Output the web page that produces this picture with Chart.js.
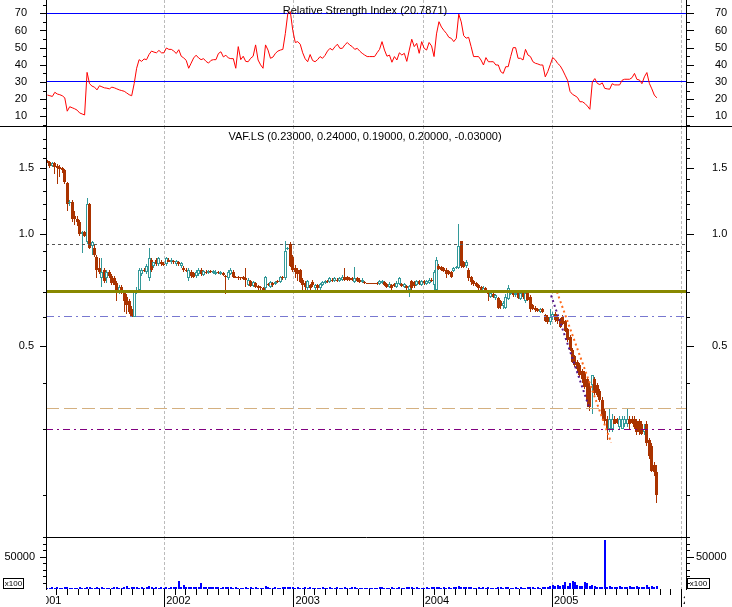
<!DOCTYPE html>
<html>
<head>
<meta charset="utf-8">
<title>VAF.LS</title>
<script src="https://cdn.jsdelivr.net/npm/chart.js@4.4.1/dist/chart.umd.min.js"></script>
<style>
  html, body { margin: 0; padding: 0; background: #fff; }
  #wrap { position: relative; width: 732px; height: 607px; overflow: hidden; background: #fff; }
  #wrap canvas { position: absolute; left: 0; }
</style>
</head>
<body>
<div id="wrap">
  <canvas id="rsi" width="732" height="127" style="top:0"></canvas>
  <canvas id="price" width="732" height="411" style="top:126px"></canvas>
  <canvas id="vol" width="732" height="70" style="top:537px"></canvas>
</div>
<script>
// weekly bars, the first one is the week of this date
const firstWeek = '2001-02-05';

const opens = [
  1.57, 1.56, 1.52, 1.55, 1.52, 1.51, 1.50, 1.48, 1.37, 1.21,
  1.22, 1.12, 1.10, 1.08, 1.00, 1.01, 0.95, 1.20, 0.93, 0.92,
  0.87, 0.81, 0.76, 0.80, 0.76, 0.79, 0.77, 0.76, 0.74, 0.70,
  0.72, 0.70, 0.68, 0.66, 0.63, 0.60, 0.70, 0.71, 0.78, 0.80,
  0.79, 0.76, 0.85, 0.82, 0.85, 0.83, 0.84, 0.83, 0.83, 0.85,
  0.84, 0.845, 0.83, 0.84, 0.82, 0.81, 0.80, 0.76, 0.79, 0.785,
  0.77, 0.78, 0.80, 0.775, 0.79, 0.785, 0.795, 0.785, 0.78, 0.79,
  0.78, 0.785, 0.77, 0.76, 0.78, 0.79, 0.765, 0.765, 0.763, 0.765,
  0.76, 0.73, 0.75, 0.725, 0.74, 0.725, 0.72, 0.715, 0.715, 0.735,
  0.72, 0.74, 0.735, 0.75, 0.745, 0.765, 0.76, 0.91, 0.94, 0.87,
  0.81, 0.80, 0.80, 0.755, 0.74, 0.715, 0.73, 0.745, 0.715, 0.73,
  0.715, 0.73, 0.74, 0.75, 0.745, 0.755, 0.75, 0.755, 0.75, 0.755,
  0.765, 0.765, 0.762, 0.76, 0.745, 0.76, 0.755, 0.745, 0.745, 0.737,
  0.737, 0.736, 0.736, 0.74, 0.735, 0.74, 0.745, 0.735, 0.72, 0.73,
  0.735, 0.72, 0.735, 0.735, 0.72, 0.725, 0.71, 0.75, 0.745, 0.73,
  0.75, 0.73, 0.75, 0.735, 0.74, 0.755, 0.73, 0.71, 0.82, 0.815,
  0.81, 0.80, 0.795, 0.79, 0.795, 0.81, 0.81, 0.955, 0.84, 0.82,
  0.80, 0.765, 0.75, 0.74, 0.73, 0.72, 0.70, 0.715, 0.705, 0.68,
  0.69, 0.675, 0.675, 0.66, 0.64, 0.635, 0.67, 0.69, 0.70, 0.685,
  0.70, 0.67, 0.695, 0.66, 0.695, 0.68, 0.645, 0.635, 0.63, 0.62,
  0.63, 0.605, 0.60, 0.58, 0.60, 0.61, 0.60, 0.59, 0.60, 0.585,
  0.555, 0.53, 0.49, 0.47, 0.455, 0.445, 0.43, 0.425, 0.41, 0.39,
  0.395, 0.41, 0.395, 0.38, 0.36, 0.335, 0.32, 0.30, 0.30, 0.32,
  0.32, 0.305, 0.30, 0.31, 0.31, 0.32, 0.32, 0.32, 0.315, 0.315,
  0.31, 0.295, 0.31, 0.28, 0.27, 0.24, 0.23
];
const highs = [
  1.58, 1.57, 1.56, 1.56, 1.54, 1.53, 1.51, 1.49, 1.38, 1.23,
  1.23, 1.15, 1.12, 1.09, 1.02, 1.02, 1.25, 1.21, 0.96, 0.94,
  0.88, 0.86, 0.86, 0.81, 0.80, 0.80, 0.78, 0.77, 0.75, 0.73,
  0.73, 0.71, 0.69, 0.67, 0.64, 0.71, 0.72, 0.81, 0.81, 0.81,
  0.83, 0.92, 0.86, 0.84, 0.86, 0.87, 0.85, 0.84, 0.87, 0.86,
  0.86, 0.85, 0.85, 0.845, 0.84, 0.82, 0.81, 0.81, 0.80, 0.79,
  0.80, 0.81, 0.81, 0.80, 0.80, 0.80, 0.80, 0.80, 0.80, 0.795,
  0.795, 0.79, 0.775, 0.80, 0.81, 0.80, 0.77, 0.77, 0.765, 0.77,
  0.81, 0.76, 0.755, 0.75, 0.745, 0.73, 0.725, 0.72, 0.77, 0.74,
  0.75, 0.745, 0.75, 0.755, 0.77, 0.77, 0.955, 0.925, 0.95, 0.88,
  0.825, 0.81, 0.805, 0.76, 0.75, 0.755, 0.735, 0.755, 0.735, 0.735,
  0.74, 0.75, 0.755, 0.755, 0.765, 0.76, 0.765, 0.76, 0.765, 0.775,
  0.81, 0.77, 0.765, 0.765, 0.815, 0.765, 0.76, 0.76, 0.75, 0.74,
  0.74, 0.738, 0.738, 0.745, 0.755, 0.755, 0.75, 0.74, 0.745, 0.735,
  0.74, 0.75, 0.765, 0.74, 0.74, 0.73, 0.73, 0.755, 0.75, 0.755,
  0.755, 0.755, 0.755, 0.755, 0.76, 0.76, 0.80, 0.87, 0.83, 0.82,
  0.815, 0.81, 0.80, 0.795, 0.815, 0.82, 1.065, 0.96, 0.845, 0.85,
  0.81, 0.77, 0.755, 0.745, 0.735, 0.725, 0.725, 0.72, 0.71, 0.70,
  0.695, 0.69, 0.68, 0.665, 0.66, 0.69, 0.73, 0.705, 0.705, 0.70,
  0.705, 0.70, 0.70, 0.70, 0.70, 0.685, 0.65, 0.64, 0.635, 0.635,
  0.635, 0.61, 0.605, 0.63, 0.62, 0.62, 0.605, 0.595, 0.605, 0.59,
  0.56, 0.535, 0.495, 0.475, 0.46, 0.45, 0.435, 0.43, 0.415, 0.40,
  0.42, 0.415, 0.40, 0.385, 0.365, 0.34, 0.325, 0.34, 0.33, 0.325,
  0.322, 0.325, 0.325, 0.325, 0.34, 0.325, 0.325, 0.325, 0.32, 0.32,
  0.315, 0.31, 0.315, 0.285, 0.275, 0.245, 0.24
];
const lows = [
  1.55, 1.50, 1.51, 1.45, 1.36, 1.42, 1.46, 1.36, 1.15, 1.19,
  1.08, 1.06, 1.05, 0.99, 0.89, 0.98, 0.94, 0.91, 0.88, 0.87,
  0.76, 0.78, 0.72, 0.74, 0.74, 0.76, 0.73, 0.73, 0.66, 0.69,
  0.69, 0.62, 0.61, 0.61, 0.598, 0.598, 0.69, 0.70, 0.77, 0.79,
  0.78, 0.75, 0.79, 0.81, 0.82, 0.82, 0.82, 0.82, 0.82, 0.84,
  0.83, 0.83, 0.82, 0.82, 0.81, 0.79, 0.79, 0.75, 0.76, 0.76,
  0.76, 0.77, 0.77, 0.77, 0.78, 0.78, 0.785, 0.78, 0.775, 0.78,
  0.775, 0.77, 0.69, 0.755, 0.775, 0.76, 0.76, 0.755, 0.755, 0.755,
  0.72, 0.725, 0.72, 0.72, 0.715, 0.705, 0.71, 0.70, 0.71, 0.725,
  0.715, 0.72, 0.73, 0.74, 0.74, 0.755, 0.755, 0.905, 0.815, 0.79,
  0.76, 0.75, 0.74, 0.71, 0.70, 0.71, 0.71, 0.72, 0.71, 0.71,
  0.71, 0.725, 0.735, 0.74, 0.74, 0.745, 0.745, 0.745, 0.745, 0.75,
  0.75, 0.75, 0.75, 0.75, 0.74, 0.745, 0.74, 0.74, 0.735, 0.735,
  0.734, 0.733, 0.733, 0.73, 0.73, 0.735, 0.725, 0.715, 0.715, 0.71,
  0.72, 0.715, 0.73, 0.72, 0.715, 0.71, 0.68, 0.71, 0.715, 0.725,
  0.73, 0.725, 0.73, 0.73, 0.735, 0.745, 0.71, 0.705, 0.80, 0.795,
  0.79, 0.76, 0.775, 0.76, 0.79, 0.805, 0.805, 0.81, 0.81, 0.81,
  0.75, 0.73, 0.725, 0.72, 0.71, 0.70, 0.695, 0.70, 0.66, 0.675,
  0.675, 0.665, 0.63, 0.63, 0.63, 0.63, 0.665, 0.685, 0.68, 0.68,
  0.67, 0.665, 0.67, 0.655, 0.66, 0.62, 0.625, 0.62, 0.62, 0.615,
  0.615, 0.58, 0.575, 0.57, 0.59, 0.58, 0.575, 0.56, 0.57, 0.545,
  0.515, 0.485, 0.45, 0.44, 0.43, 0.415, 0.40, 0.385, 0.345, 0.335,
  0.33, 0.37, 0.365, 0.355, 0.32, 0.31, 0.28, 0.295, 0.295, 0.31,
  0.31, 0.30, 0.30, 0.305, 0.305, 0.30, 0.31, 0.30, 0.29, 0.29,
  0.29, 0.29, 0.27, 0.25, 0.23, 0.225, 0.19
];
const closes = [
  1.56, 1.52, 1.55, 1.51, 1.50, 1.49, 1.48, 1.38, 1.20, 1.22,
  1.10, 1.10, 1.08, 1.00, 1.01, 0.99, 1.20, 0.92, 0.95, 0.88,
  0.80, 0.79, 0.79, 0.75, 0.79, 0.77, 0.74, 0.73, 0.70, 0.72,
  0.70, 0.66, 0.645, 0.62, 0.60, 0.70, 0.71, 0.80, 0.80, 0.795,
  0.82, 0.86, 0.80, 0.84, 0.83, 0.86, 0.83, 0.825, 0.86, 0.84,
  0.85, 0.84, 0.845, 0.83, 0.835, 0.80, 0.795, 0.80, 0.77, 0.765,
  0.79, 0.80, 0.78, 0.795, 0.785, 0.795, 0.79, 0.795, 0.79, 0.785,
  0.79, 0.775, 0.765, 0.79, 0.80, 0.765, 0.762, 0.76, 0.76, 0.758,
  0.755, 0.755, 0.725, 0.745, 0.72, 0.715, 0.715, 0.71, 0.765, 0.73,
  0.745, 0.73, 0.745, 0.745, 0.765, 0.76, 0.90, 0.92, 0.82, 0.80,
  0.79, 0.78, 0.745, 0.73, 0.72, 0.75, 0.715, 0.73, 0.73, 0.715,
  0.735, 0.745, 0.75, 0.745, 0.76, 0.75, 0.76, 0.75, 0.76, 0.765,
  0.755, 0.752, 0.752, 0.752, 0.76, 0.75, 0.745, 0.755, 0.738, 0.736,
  0.735, 0.735, 0.734, 0.735, 0.75, 0.75, 0.73, 0.72, 0.735, 0.715,
  0.725, 0.74, 0.76, 0.725, 0.735, 0.715, 0.725, 0.715, 0.725, 0.75,
  0.735, 0.75, 0.74, 0.75, 0.755, 0.75, 0.79, 0.85, 0.805, 0.80,
  0.795, 0.78, 0.78, 0.765, 0.81, 0.815, 0.93, 0.82, 0.815, 0.84,
  0.76, 0.745, 0.735, 0.725, 0.715, 0.705, 0.715, 0.705, 0.69, 0.695,
  0.68, 0.685, 0.635, 0.64, 0.655, 0.68, 0.715, 0.70, 0.685, 0.695,
  0.675, 0.695, 0.68, 0.695, 0.665, 0.63, 0.63, 0.625, 0.622, 0.63,
  0.62, 0.585, 0.58, 0.60, 0.61, 0.59, 0.585, 0.565, 0.575, 0.55,
  0.52, 0.49, 0.455, 0.445, 0.435, 0.42, 0.41, 0.39, 0.36, 0.345,
  0.42, 0.375, 0.37, 0.36, 0.325, 0.315, 0.30, 0.32, 0.32, 0.31,
  0.311, 0.32, 0.32, 0.32, 0.32, 0.31, 0.312, 0.305, 0.295, 0.295,
  0.292, 0.30, 0.275, 0.255, 0.232, 0.23, 0.20
];
// weekly volume (axis is labelled x100)
const volumes = [
  2200, 1800, 2600, 1900, 2400, 2100, 1700, 2500, 3000, 2200,
  1900, 2300, 2000, 2600, 1800, 2200, 2900, 2400, 2000, 1900,
  2500, 2200, 2800, 2100, 1900, 2300, 2000, 2400, 2600, 2200,
  2000, 2500, 4800, 2300, 2700, 3100, 2600, 2200, 2400, 2100,
  2800, 4600, 2400, 2000, 2600, 2200, 2900, 2300, 2500, 2100,
  2400, 3600, 2800, 11800, 3200, 6600, 2900, 2600, 3000, 2500,
  2700, 3200, 9000, 3400, 2800, 2500, 3000, 2600, 2400, 2700,
  2300, 2600, 3200, 2800, 2400, 2100, 2600, 2300, 2000, 2200,
  2400, 2100, 2500, 2200, 2600, 2000, 2300, 2100, 4200, 2400,
  2200, 2000, 2600, 2300, 2100, 2500, 3000, 2600, 2800, 2400,
  2200, 2500, 2100, 2300, 2600, 2000, 2400, 2200, 1900, 2300,
  2100, 2400, 2000, 2300, 2500, 2100, 2200, 2600, 1900, 2300,
  2700, 2200, 2000, 2400, 2900, 2100, 2300, 2000, 2200, 1900,
  2100, 2300, 2000, 2200, 2400, 2600, 2100, 2300, 2000, 2500,
  2200, 2000, 2400, 2100, 2300, 2600, 2900, 2500, 2200, 2400,
  2100, 2300, 2000, 2500, 2200, 2400, 2800, 3200, 2600, 2300,
  2500, 2200, 2400, 2100, 2600, 2800, 4800, 3400, 2600, 2400,
  2800, 2500, 2300, 2100, 2400, 2200, 2600, 2300, 2500, 2100,
  2300, 2000, 2600, 2400, 2200, 2800, 2500, 2300, 2100, 2400,
  2200, 2600, 2300, 2000, 2500, 2700, 2400, 2200, 2600, 2300,
  2800, 3000, 3400, 4200, 5500, 4800, 6000, 5200, 6400, 11000,
  4600, 9000, 12000, 10500, 6600, 4000, 5200, 11000, 9200, 4400,
  6400, 4600, 3200, 3600, 3400, 76000, 2800, 4200, 3000, 3600,
  2800, 4400, 3000, 3800, 2600, 4200, 3200, 2900, 4600, 3000,
  3400, 2800, 6400, 3600, 4400, 3000, 5000
];
const rsiValues = [
  22.4, 22.0, 21.6, 24.0, 23.0, 22.6, 22.0, 20.8, 13.0, 15.6,
  15.0, 14.4, 13.6, 12.0, 11.4, 10.8, 35.6, 29.0, 27.6, 27.0,
  25.4, 27.8, 27.2, 26.6, 26.4, 26.0, 27.0, 26.6, 26.0, 25.4,
  25.0, 24.6, 23.6, 22.6, 22.0, 29.0, 38.0, 43.0, 42.0, 43.4,
  43.0, 46.0, 48.0, 47.4, 47.0, 48.4, 47.0, 47.0, 49.8, 49.0,
  49.0, 48.0, 46.6, 48.8, 45.0, 44.0, 42.6, 38.0, 41.0, 44.0,
  45.6, 44.0, 43.0, 43.6, 42.0, 41.0, 42.6, 43.0, 43.0, 46.6,
  47.6, 44.6, 45.6, 44.0, 43.6, 43.6, 38.0, 50.6, 43.0, 45.0,
  42.0, 41.8, 43.8, 45.0, 51.6, 42.8, 40.0, 38.0, 51.6, 48.6,
  43.8, 44.5, 46.7, 48.0, 48.6, 49.0, 58.3, 70.0, 71.0, 60.0,
  53.0, 53.5, 52.0, 47.0, 43.5, 41.8, 46.0, 42.5, 41.8, 43.0,
  44.8, 43.8, 45.5, 48.0, 49.6, 48.6, 50.5, 52.0, 49.6, 49.6,
  51.6, 53.0, 51.5, 50.6, 49.0, 49.6, 48.0, 46.7, 45.7, 44.8,
  44.8, 44.8, 44.8, 47.0, 49.0, 53.5, 48.6, 45.0, 45.7, 41.5,
  44.8, 42.8, 47.0, 45.7, 46.7, 42.0, 48.6, 54.9, 50.6, 52.5,
  46.7, 53.5, 49.6, 48.6, 53.0, 51.0, 44.8, 58.0, 65.1, 62.0,
  60.0, 58.3, 56.0, 55.4, 53.5, 55.4, 69.5, 65.0, 57.0, 55.5,
  56.0, 50.6, 44.8, 44.8, 44.8, 42.8, 39.9, 44.2, 41.8, 41.8,
  41.8, 39.9, 39.9, 36.0, 35.0, 38.9, 38.9, 44.8, 50.0, 50.0,
  43.8, 43.8, 42.8, 49.0, 45.7, 44.8, 41.8, 40.9, 40.5, 39.9,
  39.9, 33.0, 36.0, 40.0, 44.2, 43.0, 40.8, 39.5, 37.0, 34.0,
  31.0, 24.5, 22.8, 22.0, 21.0, 18.5, 18.5, 17.5, 16.0, 14.1,
  30.0, 32.0, 29.2, 28.5, 29.5, 26.3, 26.0, 25.8, 29.0, 28.3,
  28.3, 28.3, 31.0, 31.6, 31.6, 31.6, 32.5, 35.0, 31.5, 31.2,
  29.0, 33.0, 35.5, 29.2, 26.0, 22.4, 20.7871
];

const rsiLevels = [70, 30];
const priceLevels = [0.94, 0.70, 0.60, 0.341, 0.30];
// dotted trend lines: [date, price] end points
const trendA = [['2004-12-25', 0.705], ['2005-04-16', 0.343]];
const trendB = [['2005-01-15', 0.70], ['2005-06-17', 0.276]];

const yearLines = [2002, 2003, 2004, 2005, 2006];
const yearLabels = [2002, 2003, 2004, 2005];
const rsiLabels = [10, 20, 30, 40, 50, 60, 70];
const rsiMinor = [5, 15, 25, 35, 45, 55, 65, 75];
const priceLabels = [0.5, 1.0, 1.5];
const priceMinor = [0.2, 0.3, 0.4, 0.6, 0.7, 0.8, 0.9, 1.1, 1.2, 1.3, 1.4, 1.6, 1.7, 1.8];
const volLabels = [50000];
const volMinor = [10000, 20000, 30000, 40000, 60000, 70000, 80000];

// styling
const UP = '#339999', DOWN = '#aa3300';
const levelColors = ['#555555', '#888800', '#7878d0', '#d4b080', '#800080'];
const levelWidths = [1, 3, 1, 1, 1];
const levelDashes = [[3, 3], [], [8, 4, 2, 4], [13, 5], [7, 4, 2, 4]];
const X_MIN = 2001.085, X_MAX = 2006.037;

const n = closes.length;
if ([opens, highs, lows, volumes, rsiValues].some(a => a.length !== n)) {
  document.body.insertAdjacentHTML('beforeend', '<p style="color:red">length mismatch ' +
    [opens, highs, lows, closes, volumes, rsiValues].map(a => a.length).join(',') + '</p>');
}

const DAY = 86400000;
function decimalYear(t) {
  const y = new Date(t).getUTCFullYear();
  const a = Date.UTC(y, 0, 1), b = Date.UTC(y + 1, 0, 1);
  return y + (t - a) / (b - a);
}
const dateX = s => decimalYear(Date.parse(s + 'T00:00:00Z'));
const t0 = Date.parse(firstWeek + 'T00:00:00Z');
const weekX = closes.map((_, i) => decimalYear(t0 + i * 7 * DAY));
const isUp = closes.map((c, i) => c >= opens[i]);

const FONT = '"Liberation Sans", Arial, sans-serif';
Chart.defaults.font.family = FONT;
Chart.defaults.font.size = 11;
Chart.defaults.color = '#000';

function hline(v, color, width, dash, order) {
  return {
    type: 'line', data: [{x: X_MIN, y: v}, {x: X_MAX, y: v}], snapLine: true,
    borderColor: color, borderWidth: width, borderDash: dash,
    pointRadius: 0, tension: 0, fill: false, order
  };
}

function xHidden() {
  return {type: 'linear', display: false, min: X_MIN, max: X_MAX, bounds: 'data', offset: false};
}

function yAxis(side, type, min, max, labels, pad, fmt) {
  return {
    type, position: side, min, max, bounds: 'data',
    grid: {display: false, drawTicks: false},
    border: {display: false},
    ticks: {padding: pad, autoSkip: false, callback: fmt},
    afterBuildTicks: s => { s.ticks = labels.map(v => ({value: v})); },
    afterFit: s => { s.width = 46; s.paddingTop = 0; s.paddingBottom = 0; }
  };
}

// keep thin bars and flat level lines on whole pixels so they stay crisp
const snapPixels = {
  id: 'snapPixels',
  beforeDatasetsDraw(chart) {
    chart.data.datasets.forEach((ds, i) => {
      const meta = chart.getDatasetMeta(i);
      if (meta.type === 'bar') {
        meta.data.forEach(el => {
          const odd = Math.round(el.width) % 2 === 1;
          el.x = odd ? Math.floor(el.x) + 0.5 : Math.round(el.x);
          const top = Math.round(Math.min(el.y, el.base));
          let bot = Math.round(Math.max(el.y, el.base));
          if (bot - top < 1) bot = top + 1;
          el.y = top; el.base = bot;
        });
      } else if (ds.snapLine) {
        meta.data.forEach(el => { el.y = Math.floor(el.y) + 0.5; });
      }
    });
  }
};

function frame(opts) {
  return {
    id: 'frame',
    beforeDatasetsDraw(chart) {
      const {ctx, chartArea: a} = chart;
      const xs = chart.scales.x;
      ctx.save();
      ctx.strokeStyle = '#bbbbbb';
      ctx.lineWidth = 1;
      ctx.setLineDash([3, 2]);
      yearLines.forEach(yr => {
        const px = Math.round(xs.getPixelForValue(yr)) + 0.5;
        ctx.beginPath(); ctx.moveTo(px, a.top); ctx.lineTo(px, a.bottom); ctx.stroke();
      });
      ctx.restore();
    },
    afterDraw(chart) {
      const {ctx, chartArea: a} = chart;
      const ys = chart.scales.y;
      ctx.save();
      ctx.strokeStyle = '#000';
      ctx.lineWidth = 1;
      const seg = (x1, y1, x2, y2) => { ctx.beginPath(); ctx.moveTo(x1, y1); ctx.lineTo(x2, y2); ctx.stroke(); };
      const L = a.left + 0.5, R = a.right + 0.5;
      seg(L, 0, L, a.bottom + 1);
      seg(R, 0, R, a.bottom + 1);
      if (opts.topLine) seg(opts.topLine[0], 0.5, opts.topLine[1], 0.5);
      opts.major.forEach(v => {
        const py = Math.round(ys.getPixelForValue(v)) + 0.5;
        seg(a.left - 6, py, a.left + 1, py);
        seg(a.right, py, a.right + 8, py);
      });
      opts.minor.forEach(v => {
        const py = Math.round(ys.getPixelForValue(v)) + 0.5;
        seg(a.left - 3, py, a.left + 1, py);
        seg(a.right, py, a.right + 4, py);
      });
      if (opts.title) {
        ctx.fillStyle = '#000';
        ctx.font = '11px ' + FONT;
        ctx.textAlign = 'center';
        ctx.textBaseline = 'alphabetic';
        ctx.fillText(opts.title, (a.left + a.right) / 2 - 1, 13.5);
      }
      if (opts.timeAxis) {
        const xs = chart.scales.x;
        const H = chart.height;
        for (let y = 2001; y <= 2006; y++) {
          for (let m = 0; m < 12; m++) {
            const v = decimalYear(Date.UTC(y, m, 1));
            if (v < X_MIN || v > X_MAX) continue;
            const px = Math.round(xs.getPixelForValue(v)) + 0.5;
            seg(px, a.bottom, px, m === 0 ? H : a.bottom + 6);
          }
        }
        // year labels cut by the plot edges
        ctx.fillStyle = '#000';
        ctx.font = '11px ' + FONT;
        ctx.textAlign = 'left';
        ctx.textBaseline = 'middle';
        const ly = a.bottom + 12;
        ctx.save();
        ctx.beginPath(); ctx.rect(a.left, a.bottom, a.right - 1 - a.left, H); ctx.clip();
        ctx.fillText('2001', Math.round(xs.getPixelForValue(2001)) + 2, ly);
        ctx.fillText('2006', Math.round(xs.getPixelForValue(2006)) + 2, ly);
        ctx.restore();
        // "x100" unit boxes
        ctx.font = '8px ' + FONT;
        ctx.textAlign = 'center';
        [[3.5, 20], [687.5, 22]].forEach(([bx, bw]) => {
          ctx.strokeRect(bx, 41.5, bw, 10);
          ctx.fillText('x100', bx + bw / 2, 47);
        });
      }
      ctx.restore();
    }
  };
}

const common = {
  responsive: false,
  animation: false,
  events: [],
  layout: {padding: 0, autoPadding: false},
  plugins: {legend: {display: false}, tooltip: {enabled: false}, title: {display: false}}
};

// ---- RSI panel ----
new Chart(document.getElementById('rsi'), {
  type: 'line',
  data: {
    datasets: [
      {data: weekX.map((x, i) => ({x, y: rsiValues[i]})), borderColor: '#ff0000', borderWidth: 1,
       pointRadius: 0, tension: 0, fill: false, order: 0},
      ...rsiLevels.map(v => hline(v, '#0000ff', 1, [], 1))
    ]
  },
  options: Object.assign({}, common, {
    scales: {
      x: xHidden(),
      y: yAxis('left', 'linear', 3.80, 77.74, rsiLabels, 19, v => String(v)),
      y2: yAxis('right', 'linear', 3.80, 77.74, rsiLabels, 29, v => String(v))
    }
  }),
  plugins: [snapPixels, frame({
    major: rsiLabels, minor: rsiMinor,
    title: 'Relative Strength Index (' + rsiValues[n - 1].toFixed(4) + ')'
  })]
});

// ---- price panel ----
const f5 = v => v.toFixed(5);
const priceTitle = 'VAF.LS (' + [opens[n - 1], highs[n - 1], lows[n - 1], closes[n - 1],
  closes[n - 1] - closes[n - 2]].map(f5).join(', ') + ')';

new Chart(document.getElementById('price'), {
  type: 'bar',
  data: {
    datasets: [
      ...priceLevels.map((v, i) => hline(v, levelColors[i], levelWidths[i], levelDashes[i], 0)),
      {type: 'line', data: trendA.map(([d, v]) => ({x: dateX(d), y: v})), borderColor: '#551a8b',
       borderWidth: 2, borderDash: [2, 3], pointRadius: 0, tension: 0, fill: false, order: 0},
      {type: 'line', data: trendB.map(([d, v]) => ({x: dateX(d), y: v})), borderColor: '#ff6a1a',
       borderWidth: 2, borderDash: [2, 3], pointRadius: 0, tension: 0, fill: false, order: 0},
      {data: weekX.map((x, i) => ({x, y: [opens[i], closes[i]]})),
       backgroundColor: isUp.map(u => u ? '#ffffff' : DOWN),
       borderColor: isUp.map(u => u ? UP : DOWN),
       borderWidth: isUp.map(u => u ? 1 : 0),
       borderSkipped: false, barThickness: 3, minBarLength: 1, grouped: false,
       inflateAmount: 0, order: 1},
      {data: weekX.map((x, i) => ({x, y: [lows[i], highs[i]]})),
       backgroundColor: isUp.map(u => u ? UP : DOWN),
       borderWidth: 0, barThickness: 1, minBarLength: 1, grouped: false,
       inflateAmount: 0, order: 2}
    ]
  },
  options: Object.assign({}, common, {
    scales: {
      x: xHidden(),
      y: yAxis('left', 'logarithmic', 0.15427, 1.947, priceLabels, 12, v => v.toFixed(1)),
      y2: yAxis('right', 'logarithmic', 0.15427, 1.947, priceLabels, 26, v => v.toFixed(1))
    }
  }),
  plugins: [snapPixels, frame({major: priceLabels, minor: priceMinor, topLine: [0, 732], title: priceTitle})]
});

// ---- volume panel ----
new Chart(document.getElementById('vol'), {
  type: 'bar',
  data: {
    datasets: [{
      data: weekX.map((x, i) => ({x, y: volumes[i]})),
      backgroundColor: '#0000ff', borderWidth: 0, barThickness: 2, minBarLength: 1,
      grouped: false, inflateAmount: 0
    }]
  },
  options: Object.assign({}, common, {
    scales: {
      x: {
        type: 'linear', position: 'bottom', min: X_MIN, max: X_MAX, bounds: 'data', offset: false,
        grid: {display: false, drawTicks: false},
        border: {display: false},
        ticks: {align: 'start', labelOffset: 2, padding: 5, autoSkip: false, maxRotation: 0,
                callback: v => String(v)},
        afterBuildTicks: s => { s.ticks = yearLabels.map(v => ({value: v})); },
        afterFit: s => { s.height = 18; s.paddingLeft = 0; s.paddingRight = 0; }
      },
      y: yAxis('left', 'linear', 0, 80500, volLabels, 11, v => String(v)),
      y2: yAxis('right', 'linear', 0, 80500, volLabels, 10, v => String(v))
    }
  }),
  plugins: [snapPixels, frame({major: volLabels, minor: volMinor, topLine: [46, 687], timeAxis: true})]
});
</script>
</body>
</html>
